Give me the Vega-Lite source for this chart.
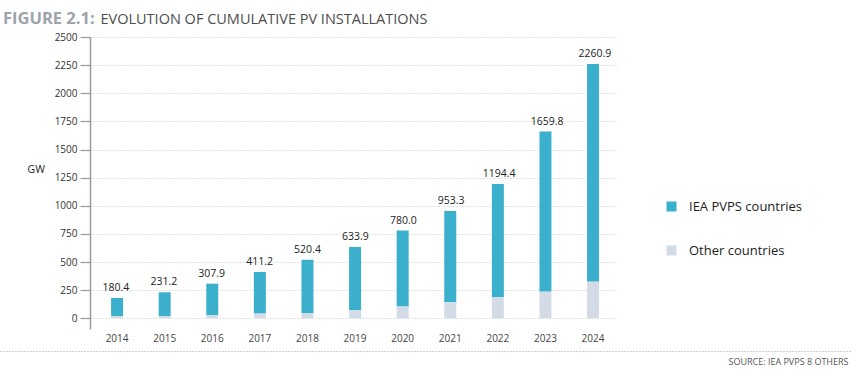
{
  "$schema": "https://vega.github.io/schema/vega-lite/v6.json",
  "width": 527,
  "height": 292,
  "autosize": "none",
  "padding": {"left": 90, "top": 37, "right": 241, "bottom": 49},
  "title": {
    "text": "FIGURE 2.1:",
    "anchor": "start",
    "frame": "group",
    "orient": "top",
    "dx": -87,
    "dy": 29,
    "offset": 0,
    "baseline": "alphabetic",
    "fontSize": 16.5,
    "fontWeight": "bold",
    "color": "#9ca3aa"
  },
  "datasets": {
    "stack": [
      {"year": "2014", "series": "IEA PVPS countries", "value": 160.4},
      {"year": "2014", "series": "Other countries", "value": 20},
      {"year": "2015", "series": "IEA PVPS countries", "value": 211.2},
      {"year": "2015", "series": "Other countries", "value": 20},
      {"year": "2016", "series": "IEA PVPS countries", "value": 278.9},
      {"year": "2016", "series": "Other countries", "value": 29},
      {"year": "2017", "series": "IEA PVPS countries", "value": 369.2},
      {"year": "2017", "series": "Other countries", "value": 42},
      {"year": "2018", "series": "IEA PVPS countries", "value": 473.4},
      {"year": "2018", "series": "Other countries", "value": 47},
      {"year": "2019", "series": "IEA PVPS countries", "value": 559.9},
      {"year": "2019", "series": "Other countries", "value": 74},
      {"year": "2020", "series": "IEA PVPS countries", "value": 676.0},
      {"year": "2020", "series": "Other countries", "value": 104},
      {"year": "2021", "series": "IEA PVPS countries", "value": 811.3},
      {"year": "2021", "series": "Other countries", "value": 142},
      {"year": "2022", "series": "IEA PVPS countries", "value": 1007.4},
      {"year": "2022", "series": "Other countries", "value": 187},
      {"year": "2023", "series": "IEA PVPS countries", "value": 1422.8},
      {"year": "2023", "series": "Other countries", "value": 237},
      {"year": "2024", "series": "IEA PVPS countries", "value": 1934.9},
      {"year": "2024", "series": "Other countries", "value": 326}
    ],
    "totals": [
      {"year": "2014", "total": 180.4},
      {"year": "2015", "total": 231.2},
      {"year": "2016", "total": 307.9},
      {"year": "2017", "total": 411.2},
      {"year": "2018", "total": 520.4},
      {"year": "2019", "total": 633.9},
      {"year": "2020", "total": 780.0},
      {"year": "2021", "total": 953.3},
      {"year": "2022", "total": 1194.4},
      {"year": "2023", "total": 1659.8},
      {"year": "2024", "total": 2260.9}
    ]
  },
  "resolve": {"scale": {"x": "independent"}, "axis": {"x": "independent"}},
  "layer": [
    {
      "data": {"name": "stack"},
      "mark": {"type": "bar"},
      "encoding": {
        "x": {
          "field": "year", "type": "nominal",
          "scale": {"paddingInner": 0.748, "paddingOuter": 0.41, "align": 0.54},
          "axis": {"orient": "bottom", "domain": false, "ticks": false, "labelPadding": 4, "labelFontSize": 10, "labelColor": "#444444", "labelAngle": 0, "title": null}
        },
        "y": {
          "field": "value", "type": "quantitative", "stack": "zero",
          "scale": {"domain": [-95, 2500], "nice": false, "zero": false},
          "axis": {
            "values": [0, 250, 500, 750, 1000, 1250, 1500, 1750, 2000, 2250, 2500],
            "tickCount": 11,
            "format": "d", "labelOverlap": false,
            "domainColor": "#9a9a9a", "domainWidth": 1.5,
            "tickColor": "#9a9a9a", "tickSize": 10, "tickWidth": 1.2,
            "labelPadding": 3, "labelFontSize": 10, "labelColor": "#333333",
            "grid": true, "gridDash": [1, 2], "gridColor": "#c8c8c8",
            "title": "GW", "titleAngle": 0, "titleAlign": "left", "titleBaseline": "middle",
            "titleX": -63, "titleY": 132, "titleFontWeight": "normal", "titleFontSize": 10.5, "titleColor": "#222222"
          }
        },
        "color": {
          "field": "series", "type": "nominal",
          "scale": {"domain": ["IEA PVPS countries", "Other countries"], "range": ["#3bb0cd", "#d3dce6"]},
          "legend": {
            "orient": "none", "legendX": 575, "legendY": 163, "direction": "vertical",
            "title": null, "symbolType": "square", "symbolSize": 100, "symbolStrokeWidth": 0,
            "labelFontSize": 13, "labelColor": "#222222", "labelOffset": 11, "rowPadding": 30
          }
        },
        "order": {"field": "series", "sort": "descending"}
      }
    },
    {
      "data": {"name": "totals"},
      "mark": {"type": "text", "baseline": "alphabetic", "dy": -7, "fontSize": 10.5, "color": "#222222"},
      "encoding": {
        "x": {
          "field": "year", "type": "nominal",
          "scale": {"paddingInner": 0.748, "paddingOuter": 0.41, "align": 0.54},
          "axis": {"orient": "top", "domain": false, "ticks": false, "labels": false, "grid": false,
            "title": "EVOLUTION OF CUMULATIVE PV INSTALLATIONS", "titleAlign": "left", "titleBaseline": "alphabetic",
            "titleX": 10, "titleY": -14, "titleFontSize": 14.5, "titleFontWeight": "normal", "titleColor": "#4d4d4d"}
        },
        "y": {
          "field": "total", "type": "quantitative",
          "axis": {
            "values": [0, 250, 500, 750, 1000, 1250, 1500, 1750, 2000, 2250, 2500],
            "tickCount": 11,
            "format": "d", "labelOverlap": false,
            "domainColor": "#9a9a9a", "domainWidth": 1.5,
            "tickColor": "#9a9a9a", "tickSize": 10, "tickWidth": 1.2,
            "labelPadding": 3, "labelFontSize": 10, "labelColor": "#333333",
            "grid": true, "gridDash": [1, 2], "gridColor": "#c8c8c8",
            "title": "GW", "titleAngle": 0, "titleAlign": "left", "titleBaseline": "middle",
            "titleX": -63, "titleY": 132, "titleFontWeight": "normal", "titleFontSize": 10.5, "titleColor": "#222222"
          }
        },
        "text": {"field": "total", "type": "quantitative", "format": ".1f"}
      }
    },
    {
      "mark": {"type": "rule", "color": "#8a8a8a", "strokeWidth": 1.5},
      "encoding": {
        "y": {
          "datum": 0, "type": "quantitative",
          "axis": {
            "values": [0, 250, 500, 750, 1000, 1250, 1500, 1750, 2000, 2250, 2500],
            "tickCount": 11,
            "format": "d", "labelOverlap": false,
            "domainColor": "#9a9a9a", "domainWidth": 1.5,
            "tickColor": "#9a9a9a", "tickSize": 10, "tickWidth": 1.2,
            "labelPadding": 3, "labelFontSize": 10, "labelColor": "#333333",
            "grid": true, "gridDash": [1, 2], "gridColor": "#c8c8c8",
            "title": "GW", "titleAngle": 0, "titleAlign": "left", "titleBaseline": "middle",
            "titleX": -63, "titleY": 132, "titleFontWeight": "normal", "titleFontSize": 10.5, "titleColor": "#222222"
          }
        }
      }
    },
    {
      "mark": {"type": "rule", "opacity": 0},
      "encoding": {
        "x": {
          "datum": 0, "type": "quantitative",
          "scale": {"domain": [0, 1], "range": [-90, 760]},
          "axis": {"orient": "bottom", "offset": 22, "domainDash": [1, 2], "domainColor": "#9a9a9a", "domainWidth": 1,
            "ticks": false, "labels": false, "grid": false,
            "title": "SOURCE: IEA PVPS 8 OTHERS", "titleAlign": "right", "titleBaseline": "alphabetic",
            "titleX": 758, "titleY": 13, "titleFontSize": 9, "titleFontWeight": "normal", "titleColor": "#555555"}
        }
      }
    }
  ],
  "config": {"font": "Open Sans", "view": {"stroke": null}}
}
